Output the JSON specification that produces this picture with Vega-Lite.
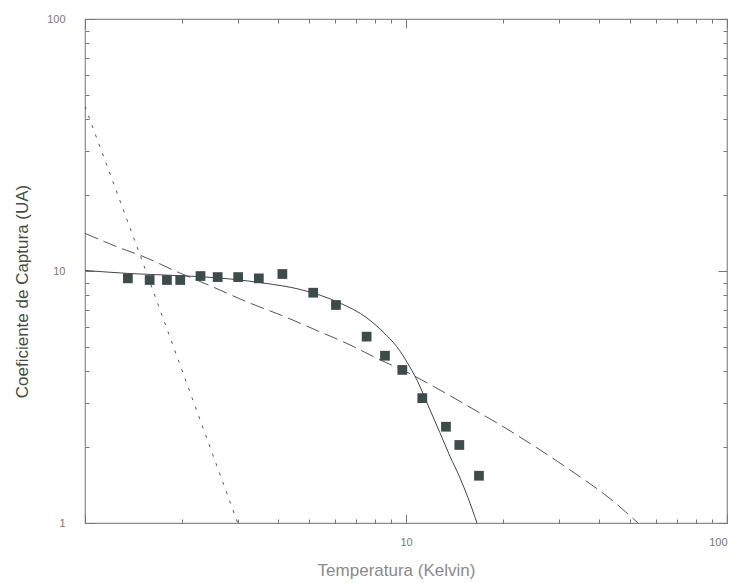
{
  "$schema": "https://vega.github.io/schema/vega-lite/v6.json",
  "width": 642,
  "height": 504,
  "autosize": {"type": "none"},
  "padding": {"left": 85, "top": 19, "right": 8, "bottom": 60},
  "background": "white",
  "config": {
    "view": {"stroke": "#8a8a8a", "strokeWidth": 1.2},
    "font": "Liberation Sans",
    "axis": {"grid": false, "domain": false, "labelFont": "Liberation Sans", "titleFont": "Liberation Sans", "labelColor": "#777777", "tickColor": "#777777", "labelFontSize": 11, "labelOverlap": false}
  },
  "datasets": {
    "measured": [
      {"T": 1.36, "C": 9.35}, {"T": 1.59, "C": 9.21}, {"T": 1.80, "C": 9.21}, {"T": 1.98, "C": 9.21},
      {"T": 2.29, "C": 9.55}, {"T": 2.59, "C": 9.46}, {"T": 3.00, "C": 9.46}, {"T": 3.48, "C": 9.35},
      {"T": 4.12, "C": 9.73}, {"T": 5.14, "C": 8.20}, {"T": 6.05, "C": 7.33}, {"T": 7.54, "C": 5.49},
      {"T": 8.60, "C": 4.61}, {"T": 9.74, "C": 4.05}, {"T": 11.24, "C": 3.13}, {"T": 13.32, "C": 2.41},
      {"T": 14.66, "C": 2.04}, {"T": 16.88, "C": 1.54}
    ],
    "fitSolid": [
      {"T": 1.0, "C": 10.05}, {"T": 1.38, "C": 9.77}, {"T": 2.23, "C": 9.51}, {"T": 2.83, "C": 9.30},
      {"T": 3.59, "C": 8.96}, {"T": 4.68, "C": 8.45}, {"T": 6.23, "C": 7.46}, {"T": 7.56, "C": 6.51},
      {"T": 8.48, "C": 5.73}, {"T": 9.37, "C": 5.00}, {"T": 10.07, "C": 4.35}, {"T": 10.82, "C": 3.69},
      {"T": 11.88, "C": 2.81}, {"T": 12.76, "C": 2.28}, {"T": 13.71, "C": 1.84}, {"T": 14.73, "C": 1.51},
      {"T": 15.60, "C": 1.26}, {"T": 16.64, "C": 1.0}
    ],
    "fitDash": [
      {"T": 1.0, "C": 14.11}, {"T": 1.255, "C": 12.49}, {"T": 1.538, "C": 11.34}, {"T": 1.931, "C": 9.94},
      {"T": 2.422, "C": 8.80}, {"T": 3.189, "C": 7.55}, {"T": 4.25, "C": 6.54}, {"T": 5.143, "C": 5.89},
      {"T": 6.693, "C": 5.09}, {"T": 8.299, "C": 4.44}, {"T": 9.739, "C": 4.05}, {"T": 12.76, "C": 3.37},
      {"T": 16.17, "C": 2.834}, {"T": 20.64, "C": 2.36}, {"T": 26.15, "C": 1.95}, {"T": 33.14, "C": 1.594},
      {"T": 43.20, "C": 1.25}, {"T": 52.81, "C": 1.0}
    ],
    "fitDot": [
      {"T": 1.0, "C": 45.0}, {"T": 1.483, "C": 11.6}, {"T": 2.99, "C": 1.0}
    ]
  },
  "layer": [
    {
      "encoding": {
        "x": {
          "field": "T", "type": "quantitative",
          "scale": {"type": "log", "domain": [1, 100]},
          "axis": {
            "orient": "bottom",
            "values": [1, 2, 3, 4, 5, 6, 7, 8, 9, 10, 20, 30, 40, 50, 60, 70, 80, 90, 100],
            "labelExpr": "datum.value == 10 || datum.value == 100 ? format(datum.value, 'd') : ''",
            "tickSize": {"condition": {"test": "datum.value == 1 || datum.value == 10 || datum.value == 100", "value": -9}, "value": -4},
            "labelPadding": 22,
            "labelFlush": true,
            "title": "Temperatura (Kelvin)",
            "titleFontSize": 17,
            "titleFontWeight": "normal",
            "titleColor": "#8a8a8a",
            "titleX": 311,
            "titleY": 47,
            "titleBaseline": "middle"
          }
        },
        "y": {
          "field": "C", "type": "quantitative",
          "scale": {"type": "log", "domain": [1, 100]},
          "axis": {
            "orient": "left",
            "values": [1, 2, 3, 4, 5, 6, 7, 8, 9, 10, 20, 30, 40, 50, 60, 70, 80, 90, 100],
            "labelExpr": "datum.value == 1 || datum.value == 10 || datum.value == 100 ? format(datum.value, 'd') : ''",
            "tickSize": {"condition": {"test": "datum.value == 1 || datum.value == 10 || datum.value == 100", "value": -9}, "value": -4},
            "labelPadding": 29,
            "labelFlush": false,
            "title": "Coeficiente de Captura (UA)",
            "titleFontSize": 17,
            "titleFontWeight": "normal",
            "titleColor": "#3f4f42",
            "titleX": -63,
            "titleY": 272,
            "titleBaseline": "middle"
          }
        }
      },
      "layer": [
        {"data": {"name": "fitDot"}, "mark": {"type": "line", "color": "#555555", "strokeWidth": 1, "strokeDash": [3, 7], "clip": true}},
        {"data": {"name": "fitDash"}, "mark": {"type": "line", "color": "#555555", "strokeWidth": 1, "strokeDash": [14, 6], "interpolate": "monotone", "clip": true}},
        {"data": {"name": "fitSolid"}, "mark": {"type": "line", "color": "#444444", "strokeWidth": 1, "interpolate": "monotone", "clip": true}},
        {"data": {"name": "measured"}, "mark": {"type": "square", "size": 95, "filled": true, "color": "#3d4c4a", "opacity": 1}}
      ]
    },
    {
      "data": {"name": "measured"},
      "mark": {"type": "point", "opacity": 0},
      "encoding": {
        "x": {
          "field": "T", "type": "quantitative",
          "scale": {"type": "log", "domain": [1, 100]},
          "axis": {
            "orient": "top", "labels": false, "title": null,
            "values": [1, 2, 3, 4, 5, 6, 7, 8, 9, 10, 20, 30, 40, 50, 60, 70, 80, 90, 100],
            "tickSize": {"condition": {"test": "datum.value == 1 || datum.value == 10 || datum.value == 100", "value": -9}, "value": -4}
          }
        },
        "y": {
          "field": "C", "type": "quantitative",
          "scale": {"type": "log", "domain": [1, 100]},
          "axis": {
            "orient": "right", "labels": false, "title": null,
            "values": [1, 2, 3, 4, 5, 6, 7, 8, 9, 10, 20, 30, 40, 50, 60, 70, 80, 90, 100],
            "tickSize": {"condition": {"test": "datum.value == 1 || datum.value == 10 || datum.value == 100", "value": -9}, "value": -4}
          }
        }
      }
    }
  ],
  "resolve": {"axis": {"x": "independent", "y": "independent"}}
}
